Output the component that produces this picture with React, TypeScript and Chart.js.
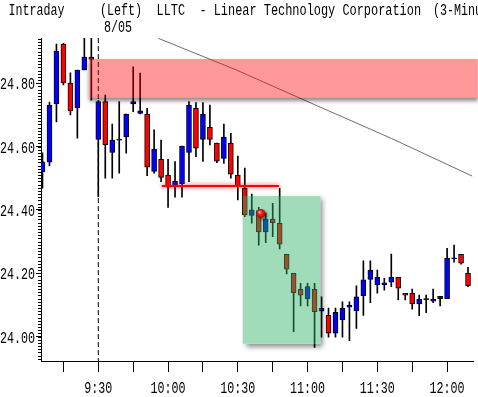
import React, { useEffect, useRef } from 'react';
import { Chart, registerables } from 'chart.js';

Chart.register(...registerables);

// ---- Data (3-minute candles, index 0 = last candles of 8/04, index 8 = 9:30 on 8/05)
const OPEN = [
  24.521, 24.551, 24.735, 24.924, 24.801, 24.722, 24.842, 24.883, 24.623, 24.742,
  24.582, 24.620, 24.631, 24.735, 24.705, 24.703, 24.522, 24.560, 24.510, 24.476,
  24.482, 24.582, 24.721, 24.623, 24.661, 24.611, 24.563, 24.611, 24.510, 24.468,
  24.383, 24.398, 24.331, 24.371, 24.358, 24.260, 24.200, 24.149, 24.120, 24.149,
  24.080, 24.067, 24.011, 24.053, 24.093, 24.081, 24.129, 24.181, 24.163, 24.163,
  24.172, 24.187, 24.137, 24.137, 24.103, 24.117, 24.112, 24.120, 24.120, 24.246,
  24.260, 24.200,
];
const HIGH = [
  24.580, 24.741, 24.924, 24.926, 24.833, 24.842, 24.960, 24.960, 24.745, 24.763,
  24.671, 24.742, 24.703, 24.852, 24.832, 24.721, 24.653, 24.621, 24.560, 24.553,
  24.602, 24.742, 24.739, 24.739, 24.731, 24.611, 24.671, 24.642, 24.570, 24.532,
  24.450, 24.408, 24.390, 24.421, 24.468, 24.260, 24.200, 24.168, 24.168, 24.168,
  24.126, 24.090, 24.090, 24.110, 24.110, 24.160, 24.239, 24.239, 24.210, 24.184,
  24.261, 24.187, 24.137, 24.150, 24.131, 24.131, 24.150, 24.127, 24.279, 24.289,
  24.260, 24.219,
];
const LOW = [
  24.469, 24.539, 24.678, 24.795, 24.700, 24.627, 24.842, 24.747, 24.442, 24.500,
  24.500, 24.516, 24.579, 24.710, 24.703, 24.508, 24.516, 24.489, 24.408, 24.440,
  24.440, 24.489, 24.568, 24.553, 24.605, 24.549, 24.547, 24.500, 24.432, 24.379,
  24.358, 24.289, 24.297, 24.316, 24.277, 24.198, 24.016, 24.097, 24.097, 23.966,
  23.998, 23.998, 23.998, 23.998, 23.987, 24.026, 24.067, 24.107, 24.137, 24.147,
  24.158, 24.116, 24.116, 24.087, 24.066, 24.076, 24.107, 24.097, 24.120, 24.235,
  24.229, 24.158,
];
const CLOSE = [
  24.552, 24.731, 24.902, 24.801, 24.713, 24.842, 24.883, 24.875, 24.742, 24.605,
  24.621, 24.623, 24.703, 24.742, 24.713, 24.535, 24.592, 24.503, 24.472, 24.491,
  24.602, 24.731, 24.595, 24.702, 24.623, 24.554, 24.630, 24.513, 24.476, 24.384,
  24.400, 24.331, 24.371, 24.360, 24.292, 24.213, 24.139, 24.131, 24.158, 24.079,
  24.090, 24.011, 24.077, 24.090, 24.099, 24.126, 24.179, 24.210, 24.188, 24.170,
  24.187, 24.153, 24.131, 24.103, 24.118, 24.120, 24.118, 24.127, 24.247, 24.249,
  24.232, 24.161,
];

const X_TICKS = [3, 8, 13, 18, 23, 28, 33, 38, 43, 48, 53, 58];
const X_TICK_LABELS = ['', '9:30', '', '10:00', '', '10:30', '', '11:00', '', '11:30', '', '12:00'];
const Y_TICKS = [24.0, 24.2, 24.4, 24.6, 24.8];

// Annotations (index / price coordinates)
const TREND_X = [16.6, 27.8, 36.9, 50.0, 61.6];
const TREND_Y = [24.942, 24.842, 24.753, 24.626, 24.507];
const SUPPORT_X = [17.1, 33.9];
const SUPPORT_Y = [24.476, 24.476];
const SESSION_X = [8, 8];
const RESIST_X = [6.7, 62.4];
const RESIST_Y = [24.754, 24.877];
const DROP_X = [28.7, 39.85];
const DROP_Y = [23.977, 24.444];
const DOT_X = [31.3];
const DOT_Y = [24.389];

const TITLE_LEFT = 'Intraday';
const SESSION_LABEL = '(Left)';
const SESSION_DATE = '8/05';
const TITLE = 'LLTC  - Linear Technology Corporation';
const TITLE_INTERVAL = '(3-Minute)';

const Y_MIN = 23.923;
const Y_MAX = 24.943;
const X_MIN = -1.5 / 7;
const X_MAX = X_MIN + 62;

const FONT_FAMILY = '"Liberation Mono", "DejaVu Sans Mono", monospace';

function drawMono(ctx: CanvasRenderingContext2D, text: string, x: number, y: number, align: string, cell = 7) {
  ctx.save();
  ctx.font = `16px ${FONT_FAMILY}`;
  const adv = ctx.measureText('0').width;
  const sx = cell / adv;
  const w = text.length * cell;
  const left = align === 'right' ? x - w : align === 'center' ? x - w / 2 : x;
  ctx.translate(left, y);
  ctx.scale(sx, 1);
  ctx.textAlign = 'left';
  ctx.textBaseline = 'alphabetic';
  ctx.fillStyle = '#000';
  ctx.fillText(text, 0, 0);
  ctx.restore();
}

function drawBox(chart: any, xs: number[], ys: number[], fill: string, shadowColor: string, ox: number, oy: number, blur: number) {
  const ctx: CanvasRenderingContext2D = chart.ctx;
  const sx = chart.scales.x;
  const sy = chart.scales.y;
  const x0 = sx.getPixelForValue(xs[0]);
  const x1 = sx.getPixelForValue(xs[1]);
  const y0 = sy.getPixelForValue(ys[1]);
  const y1 = sy.getPixelForValue(ys[0]);
  ctx.save();
  ctx.beginPath();
  ctx.rect(0, 0, chart.width, chart.height);
  ctx.rect(x0, y0, x1 - x0, y1 - y0);
  ctx.clip('evenodd');
  ctx.shadowColor = shadowColor;
  ctx.shadowBlur = blur;
  ctx.shadowOffsetX = ox + 10000;
  ctx.shadowOffsetY = oy;
  ctx.fillStyle = '#000';
  ctx.fillRect(x0 - 10000, y0, x1 - x0, y1 - y0);
  ctx.restore();
  ctx.save();
  ctx.fillStyle = fill;
  ctx.fillRect(x0, y0, x1 - x0, y1 - y0);
  ctx.restore();
}

const SUPPORT_IDX = 2;
const DOT_IDX = 5;

const decorPlugin = {
  id: 'decor',
  beforeDatasetDraw(chart: any, args: any) {
    const ctx = chart.ctx;
    if (args.index === SUPPORT_IDX) {
      ctx.save();
      ctx.shadowColor = 'rgba(255,0,0,0.85)';
      ctx.shadowBlur = 4;
    }
    if (args.index === DOT_IDX) {
      drawBox(chart, RESIST_X, RESIST_Y, 'rgba(255,0,0,0.4)', 'rgba(0,0,0,0.45)', 0, 3, 4);
      drawBox(chart, DROP_X, DROP_Y, 'rgba(44,177,99,0.45)', 'rgba(0,0,0,0.45)', 3, 3, 5);
      ctx.save();
      ctx.shadowColor = 'rgba(0,0,0,0.5)';
      ctx.shadowBlur = 3;
      ctx.shadowOffsetX = 2;
      ctx.shadowOffsetY = 2;
    }
  },
  afterDatasetDraw(chart: any, args: any) {
    if (args.index === SUPPORT_IDX || args.index === DOT_IDX) {
      chart.ctx.restore();
    }
  },
  afterDraw(chart: any) {
    const ctx: CanvasRenderingContext2D = chart.ctx;
    const sx = chart.scales.x;
    const sy = chart.scales.y;
    // minor ticks on the price axis
    ctx.save();
    ctx.strokeStyle = '#000';
    ctx.lineWidth = 1;
    const left = chart.chartArea.left;
    for (let k = Math.ceil(Y_MIN * 100); k <= Math.floor(Y_MAX * 100); k++) {
      const y = Math.round(sy.getPixelForValue(k / 100)) + 0.5;
      ctx.beginPath();
      ctx.moveTo(left - 3, y);
      ctx.lineTo(left, y);
      ctx.stroke();
    }
    ctx.restore();
    // y labels
    sy.ticks.forEach((t: any) => {
      const y = sy.getPixelForValue(t.value);
      drawMono(ctx, t.value.toFixed(2), 35, Math.round(y) + 6, 'right');
    });
    // x labels
    sx.ticks.forEach((t: any) => {
      const lbl = X_TICK_LABELS[X_TICKS.indexOf(t.value)] || '';
      if (!lbl) return;
      drawMono(ctx, lbl, sx.getPixelForValue(t.value), 393, 'center');
    });
    // header
    drawMono(ctx, TITLE_LEFT, 8.5, 15, 'left');
    drawMono(ctx, SESSION_LABEL, 100, 15, 'left');
    drawMono(ctx, SESSION_DATE, 104, 32, 'left');
    drawMono(ctx, TITLE, 156.5, 15, 'left', 7.15);
    drawMono(ctx, TITLE_INTERVAL, 433, 15, 'left');
  },
};

export default function App() {
  const ref = useRef<HTMLCanvasElement | null>(null);

  useEffect(() => {
    if (!ref.current) return;
    const idx = OPEN.map((_, i) => i);
    const bodyColors = idx.map((i) => (CLOSE[i] >= OPEN[i] ? '#0000ff' : '#ff0000'));

    const chart = new Chart(ref.current, {
      type: 'bar',
      data: {
        datasets: [
          {
            type: 'bar',
            label: 'body',
            order: 1,
            data: idx.map((i) => ({ x: i, y: [OPEN[i], CLOSE[i]] })) as any,
            backgroundColor: bodyColors,
            borderColor: '#000',
            borderWidth: 1,
            borderSkipped: false,
            barThickness: 5,
            grouped: false,
          } as any,
          {
            type: 'bar',
            label: 'wick',
            order: 2,
            data: idx.map((i) => ({ x: i, y: [LOW[i], HIGH[i]] })) as any,
            backgroundColor: '#000',
            borderWidth: 0,
            barThickness: 1,
            grouped: false,
          } as any,
          {
            type: 'line',
            label: 'support',
            order: 0,
            data: SUPPORT_X.map((x, i) => ({ x, y: SUPPORT_Y[i] })),
            borderColor: '#ff0000',
            borderWidth: 2,
            pointRadius: 0,
            fill: false,
          } as any,
          {
            type: 'line',
            label: 'trend',
            order: 3,
            data: TREND_X.map((x, i) => ({ x, y: TREND_Y[i] })),
            borderColor: '#6e6e6e',
            borderWidth: 1,
            pointRadius: 0,
            fill: false,
          } as any,
          {
            type: 'line',
            label: 'session',
            order: 3,
            data: SESSION_X.map((x, i) => ({ x, y: i === 0 ? Y_MAX : Y_MIN })),
            borderColor: '#000',
            borderWidth: 1,
            borderDash: [5, 3],
            pointRadius: 0,
            fill: false,
          } as any,
          {
            type: 'line',
            label: 'dot',
            order: -1,
            showLine: false,
            clip: false,
            data: DOT_X.map((x, i) => ({ x, y: DOT_Y[i] })),
            pointRadius: 4.5,
            pointBorderWidth: 0,
            pointBackgroundColor: (c: any) => {
              const ch = c.chart;
              if (!ch.chartArea) return '#ff0000';
              const px = ch.scales.x.getPixelForValue(DOT_X[0]);
              const py = ch.scales.y.getPixelForValue(DOT_Y[0]);
              const g = ch.ctx.createRadialGradient(px - 1.5, py - 1.5, 0.3, px, py, 5);
              g.addColorStop(0, '#ffb0b0');
              g.addColorStop(0.35, '#ff2020');
              g.addColorStop(1, '#a00000');
              return g;
            },
          } as any,
        ],
      },
      options: {
        responsive: false,
        animation: false,
        devicePixelRatio: 1,
        events: [],
        layout: { padding: { top: 38, right: 3, left: 0, bottom: 0 } },
        plugins: { legend: { display: false }, tooltip: { enabled: false } },
        scales: {
          x: {
            type: 'linear',
            min: X_MIN,
            max: X_MAX,
            bounds: 'data',
            offset: false,
            grid: { display: true, offset: false, drawOnChartArea: false, drawTicks: true, tickLength: 11, color: '#000', tickColor: '#000' },
            border: { display: true, color: '#000', width: 1 },
            ticks: { display: false, autoSkip: false },
            afterBuildTicks: (s: any) => {
              s.ticks = X_TICKS.map((v) => ({ value: v }));
            },
            afterFit: (s: any) => {
              s.height = 36;
            },
          },
          y: {
            type: 'linear',
            position: 'left',
            min: Y_MIN,
            max: Y_MAX,
            bounds: 'data',
            beginAtZero: false,
            grid: { display: true, drawOnChartArea: false, drawTicks: true, tickLength: 5, color: '#000', tickColor: '#000' },
            border: { display: true, color: '#000', width: 1 },
            ticks: { display: false, autoSkip: false },
            afterBuildTicks: (s: any) => {
              s.ticks = Y_TICKS.map((v) => ({ value: v }));
            },
            afterFit: (s: any) => {
              s.width = 41;
            },
          },
        },
      } as any,
      plugins: [decorPlugin],
    });
    return () => chart.destroy();
  }, []);

  return (
    <div style={{ position: 'fixed', left: 0, top: 0, width: 478, height: 397, background: '#fff' }}>
      <canvas ref={ref} width={478} height={397} style={{ display: 'block', width: 478, height: 397 }} />
    </div>
  );
}
